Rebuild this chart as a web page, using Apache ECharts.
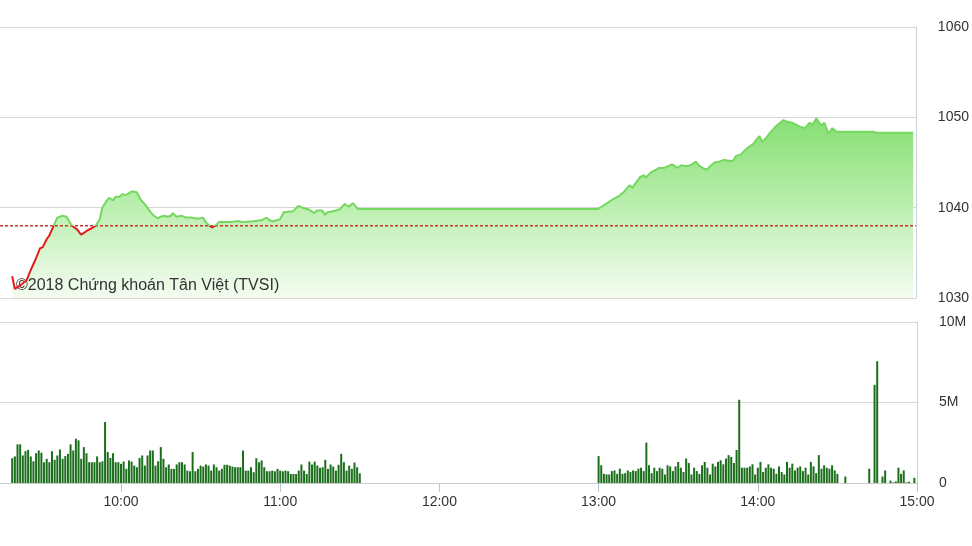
<!DOCTYPE html>
<html><head><meta charset="utf-8">
<script src="https://cdn.jsdelivr.net/npm/echarts@6/dist/echarts.min.js"></script>
<style>html,body{margin:0;padding:0;background:#fff}#c{width:972px;height:546px}</style>
</head><body><div id="c"></div>
<script>
const referencePrice = 1038.0;
const priceTicks = [1030, 1040, 1050, 1060];
const volumeTicksM = [0, 5, 10];
const timeTickLabels = ['10:00', '11:00', '12:00', '13:00', '14:00', '15:00'];
const watermark = '©2018 Chứng khoán Tân Việt (TVSI)';

const priceTimes = ['09:19','09:20','09:21','09:22:30','09:24:30','09:26','09:28','09:29:30','09:30','09:30:30',
'09:32','09:33','09:34:30','09:36','09:38','09:39:30','09:40:30','09:41:30','09:42:30','09:43:30',
'09:44','09:45','09:46:30','09:47:30','09:49:30','09:50:30','09:52','09:53','09:54:30','09:55:30',
'09:57','09:58','09:59:30','10:00:30','10:02','10:03:30','10:04:30','10:06','10:06:30','10:07:30',
'10:09','10:10','10:11:30','10:12:30','10:14','10:15','10:16:30','10:17:30','10:19','10:19:30',
'10:21','10:23','10:24:30','10:26:30','10:28:30','10:29:30','10:31','10:32','10:33:30','10:34:30',
'10:36','10:37','10:41','10:43:30','10:44:30','10:46:30','10:50','10:53','10:55','10:56',
'10:57:30','11:00','11:01:30','11:05','11:07','11:08:30','11:11','11:13','11:14','11:16',
'11:17','11:18','11:20','11:22:30','11:24:30','11:26','11:27:30','11:29:30','11:30','13:00',
'13:03','13:05:30','13:08','13:10','13:12','13:13','13:14:30','13:16','13:17:30','13:18',
'13:20','13:22','13:23','13:25','13:26:30','13:28','13:30','13:31:30','13:33','13:35',
'13:37','13:38','13:39:30','13:41','13:42:30','13:44','13:46','13:47:30','13:49','13:51',
'13:52','13:54','13:56','13:58:30','14:00','14:01','14:02','14:03:30','14:05','14:07:30',
'14:10','14:11:30','14:13:30','14:16','14:18','14:20','14:21','14:22:30','14:23:30','14:24:30',
'14:25:30','14:27','14:28:30','14:30','14:44','14:45','14:59'];
const priceValues = [1032.4,1031.0,1031.2,1031.5,1032.0,1033.1,1034.4,1035.5,1035.7,1035.6,
1036.5,1036.9,1037.9,1038.9,1039.1,1039.0,1038.5,1038.0,1037.8,1037.6,
1037.7,1037.0,1037.3,1037.5,1037.8,1038.0,1038.7,1040.0,1040.7,1041.1,
1040.8,1041.2,1041.2,1041.5,1041.4,1041.7,1041.8,1041.7,1041.5,1040.9,
1040.4,1040.0,1039.4,1039.1,1038.8,1039.0,1039.1,1039.0,1039.1,1039.4,
1039.0,1039.1,1038.9,1038.9,1038.8,1038.8,1038.9,1038.4,1038.0,1037.8,
1038.1,1038.4,1038.4,1038.5,1038.5,1038.4,1038.5,1038.6,1038.9,1038.6,
1038.5,1038.7,1039.5,1039.6,1040.2,1040.0,1039.8,1039.4,1039.7,1039.7,
1039.2,1039.5,1039.6,1039.8,1040.4,1040.1,1040.5,1039.85,1039.85,1039.85,
1040.4,1040.9,1041.3,1041.8,1042.5,1042.2,1042.8,1043.4,1043.6,1043.3,
1043.9,1044.2,1044.4,1044.4,1044.6,1044.8,1044.4,1044.7,1044.6,1044.7,
1045.1,1044.7,1044.4,1044.2,1044.6,1045.0,1045.1,1045.3,1045.2,1045.2,
1045.7,1045.9,1046.5,1047.0,1047.6,1047.9,1047.3,1047.7,1048.3,1049.1,
1049.7,1049.5,1049.4,1049.0,1048.8,1049.4,1049.2,1049.9,1049.4,1049.1,
1049.4,1048.2,1048.8,1048.4,1048.4,1048.3,1048.3];

// volume in millions, one bar per minute
const volMorningStart = '09:19';
const volMorning = [1.54,1.65,2.4,2.4,1.71,1.98,2.06,1.65,1.35,1.85,
2.02,1.88,1.29,1.5,1.29,1.98,1.44,1.71,2.08,1.5,
1.67,1.81,2.4,2.02,2.75,2.65,1.5,2.23,1.85,1.29,
1.29,1.29,1.65,1.29,1.35,3.79,1.92,1.56,1.85,1.29,
1.29,1.19,1.33,0.88,1.4,1.33,1.08,0.98,1.56,1.71,
1.08,1.71,2.02,2.02,1.08,1.35,2.23,1.5,0.98,
1.15,0.88,0.88,1.15,1.29,1.29,1.15,0.77,0.73,1.92,
0.73,0.88,1.08,1.02,1.15,
1.08,0.77,1.15,0.98,0.77,0.88,1.13,1.13,1.08,
1.02,0.98,0.98,0.98,2.02,0.77,0.77,0.98,0.67,1.54,1.29,1.4,0.98,
0.73,0.73,0.77,0.73,0.88,
0.77,0.73,0.77,0.73,0.56,0.56,
0.56,0.77,1.15,0.77,0.56,1.33,1.15,1.33,1.08,0.94,0.98,1.44,0.88,1.15,1.02,0.77,1.13,1.81,1.29,0.77,1.08,0.88,1.27,
0.98,0.6];
const volAfternoonStart = '13:00';
const volAfternoon = [1.67,1.10,0.57,0.53,0.53,0.74,0.78,0.57,0.89,0.57,
0.61,0.78,0.68,0.78,0.74,0.89,0.95,0.74,2.51,1.10,
0.61,0.95,0.74,0.95,0.89,0.53,1.10,1.03,0.74,1.03,
1.31,0.95,0.68,1.52,1.24,0.53,0.95,0.74,0.57,1.10,
1.31,0.95,0.53,1.20,1.03,1.31,1.41,1.16,1.52,1.73,
1.62,1.24,2.05,5.17,0.95,0.95,0.95,1.03,1.16,0.53,
0.95,1.31,0.68,0.95,1.16,0.95,0.89,0.57,1.03,0.68,
0.53,1.31,0.95,1.20,0.78,0.95,1.03,0.74,0.95,0.53,
1.31,1.03,0.61,1.73,0.89,1.10,0.95,0.89,1.10,0.78,0.57];
const volLateTimes = ['14:33','14:42','14:44','14:45','14:47','14:48','14:50','14:51','14:52','14:53','14:54','14:55','14:56','14:57','14:59'];
const volLate = [0.4,0.89,6.1,7.56,0.4,0.78,0.15,0.04,0.1,0.95,0.57,0.78,0.04,0.08,0.32];

const toMin = s => { const p = s.split(':').map(Number); return p[0] * 60 + p[1] + (p[2] || 0) / 60; };
const fmtTime = v => { const h = Math.floor(v / 60), m = Math.round(v - h * 60); return h + ':' + String(m).padStart(2, '0'); };

const priceData = priceTimes.map((t, i) => [toMin(t), priceValues[i]]);
const volData = [];
volMorning.forEach((v, i) => volData.push([toMin(volMorningStart) + i, v]));
volAfternoon.forEach((v, i) => volData.push([toMin(volAfternoonStart) + i, v]));
volLate.forEach((v, i) => volData.push([toMin(volLateTimes[i]), v]));

const hourVals = timeTickLabels.map(toMin);
const X_MIN = 554.4, X_MAX = 900;
const FONT = 'Liberation Sans, Arial, sans-serif';
const P_MIN = priceTicks[0], P_MAX = priceTicks[priceTicks.length - 1];

const chart = echarts.init(document.getElementById('c'), null, { renderer: 'canvas' });
chart.setOption({
  animation: false,
  backgroundColor: '#fff',
  textStyle: { fontFamily: FONT },
  grid: [
    { left: 0, top: 27, width: 917, height: 271 },
    { left: 0, top: 322, width: 917, height: 161 }
  ],
  xAxis: [
    { gridIndex: 0, type: 'value', min: X_MIN, max: X_MAX, axisLine: { show: false }, axisTick: { show: false }, axisLabel: { show: false }, splitLine: { show: false } },
    { gridIndex: 1, type: 'value', min: X_MIN, max: X_MAX,
      axisLine: { show: true, lineStyle: { color: '#cccccc' } },
      axisTick: { show: true, customValues: hourVals, length: 9, lineStyle: { color: '#b9c4d6' } },
      axisLabel: { customValues: hourVals, formatter: v => fmtTime(v), color: '#333', fontSize: 14, margin: 12, fontFamily: FONT },
      splitLine: { show: false } }
  ],
  yAxis: [
    { gridIndex: 0, type: 'value', position: 'right', min: P_MIN, max: P_MAX, interval: 10,
      axisLine: { show: true, lineStyle: { color: '#c9d1dd' } }, axisTick: { show: false },
      axisLabel: { color: '#333', fontSize: 14, margin: 22, fontFamily: FONT, formatter: v => String(v) },
      splitLine: { show: true, lineStyle: { color: '#d6d6d6' } } },
    { gridIndex: 1, type: 'value', position: 'right', min: volumeTicksM[0], max: volumeTicksM[2], interval: 5,
      axisLine: { show: true, lineStyle: { color: '#c9d1dd' } }, axisTick: { show: false },
      axisLabel: { color: '#333', fontSize: 14, margin: 22, fontFamily: FONT, formatter: v => v === 0 ? '0' : v + 'M' },
      splitLine: { show: true, lineStyle: { color: '#d6d6d6' } } }
  ],
  graphic: [{ type: 'text', left: 16, top: 278, z: 2, style: { text: watermark, font: '16px ' + FONT, fill: '#333' } }],
  series: [
    { type: 'line', xAxisIndex: 0, yAxisIndex: 0, data: priceData, showSymbol: false, symbol: 'none',
      lineStyle: { width: 0, opacity: 0 },
      areaStyle: { opacity: 1, origin: 'start', color: new echarts.graphic.LinearGradient(0, 0, 0, 1, [
        { offset: 0, color: '#86df72' }, { offset: 0.5, color: '#bcefb0' }, { offset: 1, color: '#f4fcf1' }]) },
      z: 1 },
    { type: 'line', xAxisIndex: 0, yAxisIndex: 0, data: priceData, showSymbol: false, symbol: 'none',
      lineStyle: { width: 2, color: '#74d85e' }, z: 3 },
    { type: 'line', xAxisIndex: 0, yAxisIndex: 0, data: [[X_MIN, referencePrice], [X_MAX, referencePrice]],
      showSymbol: false, symbol: 'none', silent: true,
      itemStyle: { color: '#c8352a' }, lineStyle: { color: '#c8352a', type: [3, 2], width: 1.3 }, z: 2 },
    { type: 'bar', xAxisIndex: 1, yAxisIndex: 1, data: volData, barWidth: 2, itemStyle: { color: '#1b6e1b' } }
  ]
});

// colour the price line red below the reference price, green above (global gradient in pixels)
const yTop = chart.convertToPixel({ yAxisIndex: 0 }, P_MAX);
const yBot = chart.convertToPixel({ yAxisIndex: 0 }, P_MIN);
const f = (P_MAX - referencePrice) / (P_MAX - P_MIN);
chart.setOption({ series: [{}, { lineStyle: { color: new echarts.graphic.LinearGradient(0, yTop, 0, yBot, [
  { offset: 0, color: '#74d85e' }, { offset: f, color: '#74d85e' },
  { offset: f, color: '#e31c1c' }, { offset: 1, color: '#e31c1c' }], true) } }] });
</script></body></html>
